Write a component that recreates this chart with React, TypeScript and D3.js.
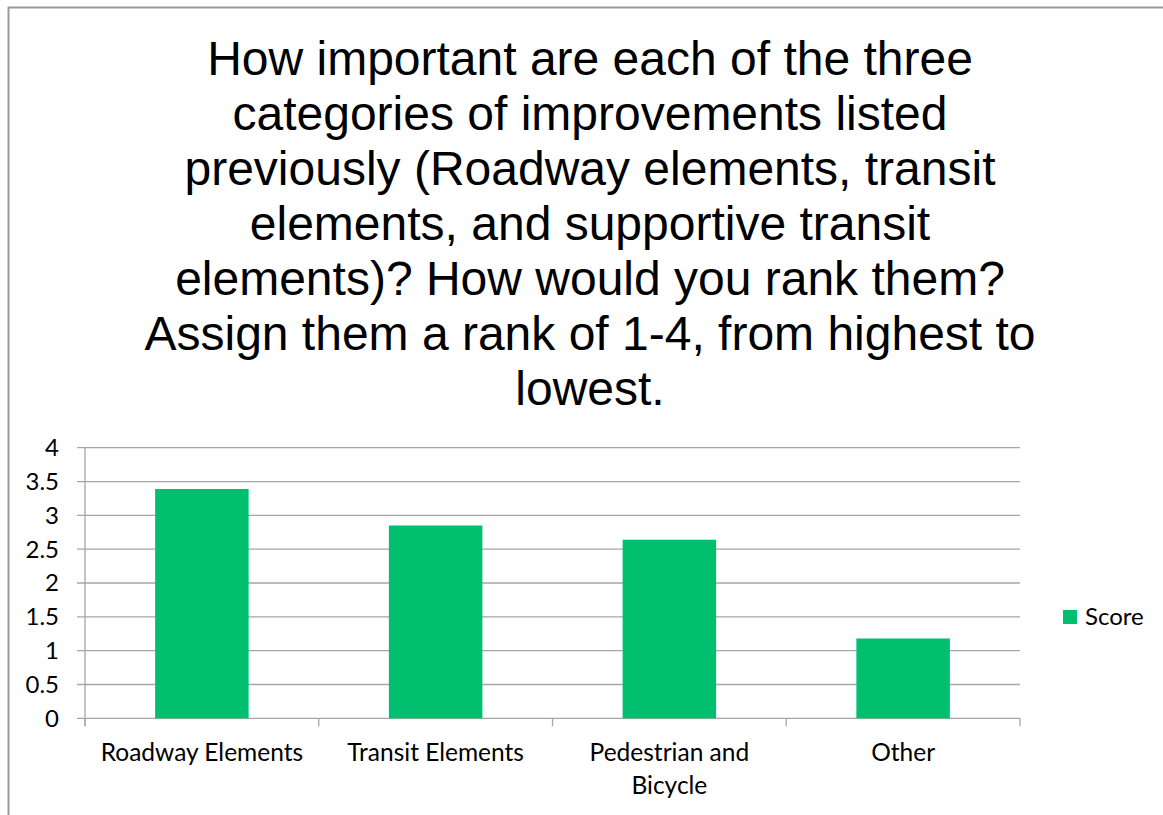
import React from "react";
import * as d3 from "d3";

const titleLines = [
  "How important are each of the three",
  "categories of improvements listed",
  "previously (Roadway elements, transit",
  "elements, and supportive transit",
  "elements)? How would you rank them?",
  "Assign them a rank of 1-4, from highest to",
  "lowest.",
];
const categories = ["Roadway Elements", "Transit Elements", "Pedestrian and Bicycle", "Other"];
const categoryLabelLines = [["Roadway Elements"], ["Transit Elements"], ["Pedestrian and", "Bicycle"], ["Other"]];
const scores = [3.39, 2.85, 2.64, 1.18];
const yTicks = [0, 0.5, 1, 1.5, 2, 2.5, 3, 3.5, 4];
const seriesName = "Score";

const W = 1163;
const H = 815;
const plot = { left: 85, right: 1020, top: 447.7, bottom: 718.3 };
const green = "#00BF6F";
const gridColor = "#A6A6A6";
const labelFont = "Lato, 'Open Sans', sans-serif";

export default function App() {
  const x = d3.scaleBand<string>().domain(categories).range([plot.left, plot.right]).paddingInner(0.6).paddingOuter(0.3);
  const band = d3.scaleBand<string>().domain(categories).range([plot.left, plot.right]).padding(0);
  const y = d3.scaleLinear().domain([0, 4]).range([plot.bottom, plot.top]);
  const boundaries = [plot.left, ...categories.map((c) => (band(c) as number) + band.bandwidth())];

  return (
    <svg width={W} height={H} style={{ position: "absolute", left: 0, top: 0, background: "#fff" }}>
      <rect x={8.5} y={7.5} width={W + 10} height={H + 10} fill="#fff" stroke="#999" strokeWidth={2} />
      <g fontFamily="'Liberation Sans', Arial, sans-serif" fontSize={48} fill="#000" textAnchor="middle">
        {titleLines.map((t, i) => (
          <text key={i} x={590} y={75 + i * 55}>{t}</text>
        ))}
      </g>
      {yTicks.map((t) => (
        <g key={t}>
          <line x1={77} x2={plot.right} y1={y(t)} y2={y(t)} stroke={gridColor} strokeWidth={1.3} />
          <text x={59} y={y(t)} dy="0.35em" textAnchor="end" fontFamily={labelFont} fontSize={24} fill="#000">{t}</text>
        </g>
      ))}
      <line x1={plot.left} x2={plot.left} y1={plot.top} y2={plot.bottom + 8} stroke={gridColor} strokeWidth={1.3} />
      {boundaries.map((b, i) => (
        <line key={i} x1={b} x2={b} y1={plot.bottom} y2={plot.bottom + 8} stroke={gridColor} strokeWidth={1.3} />
      ))}
      {categories.map((c, i) => (
        <rect key={c} x={x(c)} y={y(scores[i])} width={x.bandwidth()} height={y(0) - y(scores[i])} fill={green} />
      ))}
      {categories.map((c, i) => (
        <text key={c} x={(band(c) as number) + band.bandwidth() / 2} y={761} textAnchor="middle" fontFamily={labelFont} fontSize={24.5} fill="#000">
          {categoryLabelLines[i].map((l, j) => (
            <tspan key={j} x={(band(c) as number) + band.bandwidth() / 2} dy={j === 0 ? 0 : 33}>{l}</tspan>
          ))}
        </text>
      ))}
      <rect x={1063} y={610} width={14} height={14} fill={green} />
      <text x={1085} y={617} dy="0.35em" fontFamily={labelFont} fontSize={24} fill="#000">{seriesName}</text>
    </svg>
  );
}
